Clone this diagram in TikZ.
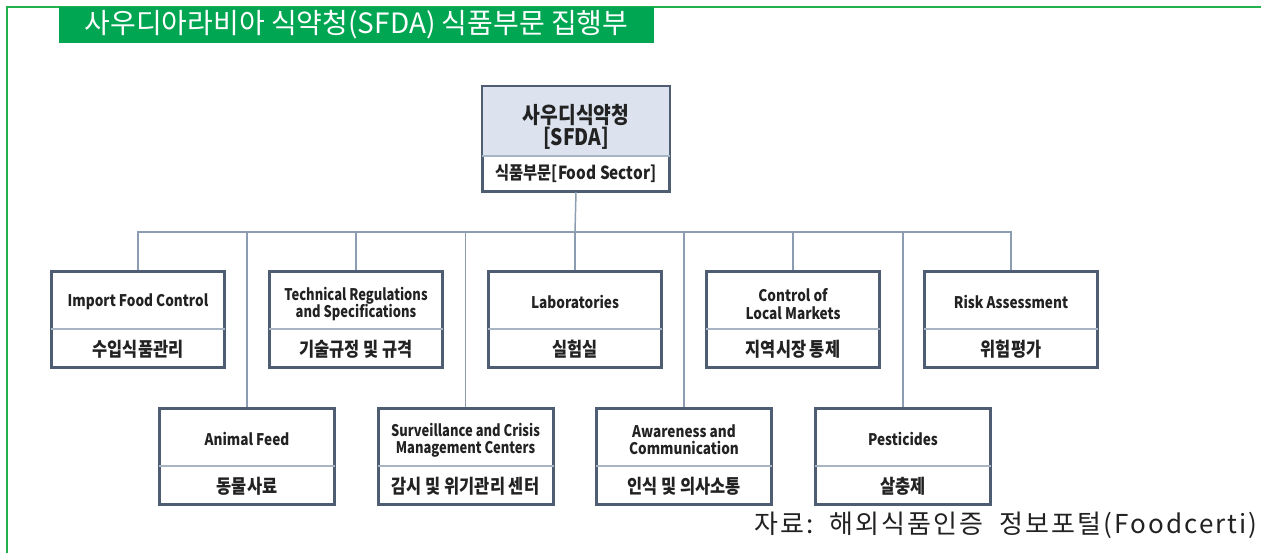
\documentclass[tikz,border=0pt]{standalone}
\usepackage{fontspec}
\setmainfont{Noto Sans CJK KR}
\newfontfamily\krn[FakeStretch=0.85]{Noto Sans CJK KR}
\newfontfamily\krnn[FakeStretch=0.81]{Noto Sans CJK KR}
\newfontfamily\srcfont[LetterSpace=8]{Noto Sans CJK KR}
\definecolor{sgreen}{HTML}{00A651}
\definecolor{frameg}{HTML}{22B14C}
\definecolor{boxline}{HTML}{4E5D72}
\definecolor{divline}{HTML}{A7B4C4}
\definecolor{connline}{HTML}{8C9DB2}
\definecolor{topfill}{HTML}{DCE3EF}
\definecolor{txt}{HTML}{222222}
\tikzset{
  box/.style={draw=boxline, line width=1.5pt, fill=white, minimum width=129pt, minimum height=71.25pt, inner sep=0pt},
  lowbox/.style={box, minimum width=130.5pt},
  divider/.style={draw=divline, line width=0.8pt},
  conn/.style={draw=connline, line width=1.1pt},
  entxt/.style={font=\krn\bfseries\fontsize{12}{13}\selectfont, text=txt, align=center, inner sep=0pt},
  entxtc/.style={font=\krnn\bfseries\fontsize{12}{13}\selectfont, text=txt, align=center, inner sep=0pt},
  krtxt/.style={font=\krn\bfseries\fontsize{14.5}{16}\selectfont, text=txt, align=center, inner sep=0pt},
}
\begin{document}
\begin{tikzpicture}[x=0.75pt,y=-0.75pt]
\useasboundingbox (0,0) rectangle (1261,553);
\fill[white] (0,0) rectangle (1261,553);
% frame
\draw[frameg, line width=1.5pt] (7,553) -- (7,7) -- (1261,7);
% banner
\node[fill=sgreen, minimum width=446.25pt, minimum height=27pt, inner sep=0pt, text=white,
      font=\fontsize{21}{22}\selectfont] (title) at (356.5,25) {사우디아라비아 식약청(SFDA) 식품부문 집행부};
% top box
\node[draw=boxline, line width=1.5pt, minimum width=139.5pt, minimum height=78pt, inner sep=0pt] (sfda) at (576,139) {};
\fill[topfill] ([shift={(0.75pt,-0.75pt)}]sfda.north west) rectangle ([xshift=-0.75pt]sfda.east |- 0,156);
\draw[boxline, line width=1.5pt] (sfda.north west) rectangle (sfda.south east);
\draw[divider] (sfda.west |- 0,156) -- (sfda.east |- 0,156);
\node[font=\krn\bfseries\fontsize{17}{18}\selectfont, text=txt, align=center, inner sep=0pt] (sfda-t) at (576,127) {사우디식약청\\[-1pt][SFDA]};
\node[font=\krn\bfseries\fontsize{13.5}{15}\selectfont, text=txt, inner sep=0pt] (sfda-b) at (576,173) {식품부문[Food Sector]};
% bus
\coordinate (bus) at (575,232);
% top row
\node[box] (imp) at (138,319.5) {};
\node[box] (tech) at (356,319.5) {};
\node[box] (lab) at (575,319.5) {};
\node[box] (ctrl) at (793,319.5) {};
\node[box] (risk) at (1011,319.5) {};
% bottom row
\node[lowbox] (feed) at (247,456.5) {};
\node[lowbox] (surv) at (465.5,456.5) {};
\node[lowbox] (aware) at (684,456.5) {};
\node[lowbox] (pest) at (903,456.5) {};
% connectors
\draw[conn] (sfda.south) -- (bus);
\foreach \n in {imp,tech,lab,ctrl,risk,feed,surv,aware,pest}{
  \draw[conn] (bus) -| (\n.north);
}
% redraw boxes over connectors
\foreach \n in {imp,tech,lab,ctrl,risk,feed,surv,aware,pest}{
  \draw[boxline, line width=1.5pt] (\n.north west) rectangle (\n.south east);
}
% dividers
\foreach \n in {imp,tech,lab,ctrl,risk}{
  \draw[divider] (\n.west |- 0,329) -- (\n.east |- 0,329);
}
\foreach \n in {feed,surv,aware,pest}{
  \draw[divider] (\n.west |- 0,466) -- (\n.east |- 0,466);
}
% top row texts
\node[entxt] (imp-en) at (138,302) {Import Food Control};
\node[krtxt] (imp-kr) at (138,349) {수입식품관리};
\node[entxtc] (tech-en) at (356,304) {Technical Regulations\\and Specifications};
\node[krtxt] (tech-kr) at (356,349) {기술규정 및 규격};
\node[entxt] (lab-en) at (575,302) {Laboratories};
\node[krtxt] (lab-kr) at (575,349) {실험실};
\node[entxt] (ctrl-en) at (793,304) {Control of\\Local Markets};
\node[krtxt] (ctrl-kr) at (793,349) {지역시장 통제};
\node[entxt] (risk-en) at (1011,302) {Risk Assessment};
\node[krtxt] (risk-kr) at (1011,349) {위험평가};
% bottom row texts
\node[entxt] (feed-en) at (247,439) {Animal Feed};
\node[krtxt] (feed-kr) at (247,486) {동물사료};
\node[entxtc] (surv-en) at (465.5,440) {Surveillance and Crisis\\Management Centers};
\node[krtxt] (surv-kr) at (465.5,486) {감시 및 위기관리 센터};
\node[entxt] (aware-en) at (684,440) {Awareness and\\Communication};
\node[krtxt] (aware-kr) at (684,486) {인식 및 의사소통};
\node[entxt] (pest-en) at (903,439) {Pesticides};
\node[krtxt] (pest-kr) at (903,486) {살충제};
% source
\node[anchor=east, inner sep=0pt, text=txt, font=\srcfont\fontsize{19.5}{21}\selectfont] (src) at (1258,525) {자료:\ \ 해외식품인증\ \ 정보포털(Foodcerti)};
\end{tikzpicture}
\end{document}
